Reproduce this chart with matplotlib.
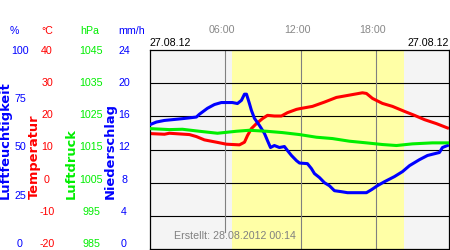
import matplotlib
matplotlib.use("Agg")
import matplotlib.pyplot as plt

# hours of the day (27.08.12) and readings
hum_hours = [0.0, 0.51, 1.15, 2.58, 3.69, 3.93, 4.57, 5.13, 5.68, 6.56, 6.96, 7.28, 7.52, 7.68,
             7.91, 8.07, 8.31, 8.71, 9.11, 9.35, 9.59, 9.90, 10.30, 10.70, 10.94, 11.26, 11.66,
             11.90, 12.53, 12.85, 13.09, 13.49, 13.89, 14.28, 14.68, 15.24, 15.72, 17.23, 17.63,
             18.10, 18.66, 19.46, 20.10, 20.66, 21.45, 22.09, 23.04, 23.28, 23.68]
humidity = [62.5, 63.8, 64.6, 65.5, 66.3, 67.7, 70.7, 72.6, 73.6, 73.6, 73.1, 74.7, 77.8, 77.8,
            73.2, 69.7, 65.7, 62.1, 58.1, 54.5, 51.0, 52.0, 51.0, 51.5, 49.5, 47.0, 44.4,
            43.2, 42.9, 40.4, 37.9, 35.9, 33.3, 31.8, 29.3, 28.8, 28.3, 28.3, 29.8,
            31.8, 33.8, 36.4, 38.9, 41.9, 44.9, 47.0, 48.5, 51.0, 52.0]

temp_hours = [0.0, 1.15, 1.54, 3.14, 3.69, 4.33, 5.29, 6.08, 7.12, 7.52, 7.76, 8.07, 8.47, 8.95,
              9.35, 9.90, 10.46, 10.94, 11.66, 11.90, 12.93, 13.89, 14.84, 15.88, 16.91, 17.23,
              17.71, 18.50, 19.30, 20.25, 21.05, 21.85, 22.80, 23.68]
temperature = [14.8, 14.6, 14.9, 14.5, 13.9, 12.9, 12.2, 11.6, 11.4, 12.2, 14.2, 16.3, 17.8, 19.3,
               20.3, 20.1, 20.1, 21.1, 22.1, 22.3, 23.0, 24.3, 25.7, 26.4, 27.1, 26.9,
               25.4, 23.9, 23.0, 21.5, 20.3, 19.0, 17.8, 16.5]

pres_hours = [0.0, 1.54, 2.58, 3.93, 5.37, 6.88, 7.91, 9.27, 10.54, 11.90, 13.25, 14.52, 15.88,
              17.23, 18.50, 19.62, 20.89, 22.48, 23.68]
pressure = [1021.3, 1021.0, 1021.1, 1020.5, 1019.9, 1020.5, 1020.8, 1020.5, 1020.1, 1019.5,
            1018.7, 1018.3, 1017.5, 1017.0, 1016.5, 1016.2, 1016.7, 1017.0, 1017.0]

sunrise, sunset = 6.56, 20.25
hour_ticks = [6, 12, 18]
hour_labels = ["06:00", "12:00", "18:00"]
hum_ticks = [0, 25, 50, 75, 100]
temp_ticks = [-20, -10, 0, 10, 20, 30, 40]
pres_ticks = [985, 995, 1005, 1015, 1025, 1035, 1045]
rain_ticks = [0, 4, 8, 12, 16, 20, 24]

BLUE = "#0000ff"
RED = "#ff0000"
GREEN = "#00ee00"
FS = 7.7
plt.rcParams["font.family"] = ["Liberation Sans", "DejaVu Sans"]
plt.rcParams["axes.unicode_minus"] = False

fig = plt.figure(figsize=(4.5, 2.5), dpi=100)
rect = [150 / 450, 1 / 250, 299 / 450, 199 / 250]
ax = fig.add_axes(rect)
ax.set_facecolor("#f4f4f4")
ax.axvspan(sunrise, sunset, color="#ffffa6", zorder=0, lw=0)
ax.set_xlim(0, 23.8)
ax.set_ylim(-20, 40)
for t in temp_ticks[1:-1]:
    ax.axhline(t, color="black", lw=0.8, zorder=1)
ax.axvline(6, ymin=0.085, color="#808080", lw=0.8, zorder=1)
for h in hour_ticks[1:]:
    ax.axvline(h, color="#808080", lw=0.8, zorder=1)
for s in ax.spines.values():
    s.set_linewidth(0.9)
    s.set_zorder(5)
ax.set_xticks([])
ax.set_yticks([])

h_ax = ax.twinx()
p_ax = ax.twinx()
h_ax.set_ylim(0, 100)
p_ax.set_ylim(985, 1045)
for a in (h_ax, p_ax):
    a.set_yticks([])
    for s in a.spines.values():
        s.set_visible(False)

ax.plot(temp_hours, temperature, color=RED, lw=2.2, zorder=3)
p_ax.plot(pres_hours, pressure, color=GREEN, lw=2.2)
h_ax.plot(hum_hours, humidity, color=BLUE, lw=2.2)

# scale labels: the labels in the original sit on a slightly shorter span (y 50..243)
lab_rect = [150 / 450, 7 / 250, 299 / 450, 193 / 250]
scales = [(hum_ticks, BLUE, 130), (temp_ticks, RED, 103), (pres_ticks, GREEN, 59),
          (rain_ticks, BLUE, 26)]
for i, (ticks, c, pad_px) in enumerate(scales):
    la = fig.add_axes(lab_rect, label=f"scale{i}")
    la.patch.set_visible(False)
    for s in la.spines.values():
        s.set_visible(False)
    la.set_ylim(ticks[0], ticks[-1])
    la.set_yticks(ticks)
    la.tick_params(axis="y", length=0, pad=pad_px * 0.72, labelsize=FS, labelcolor=c)
    plt.setp(la.get_yticklabels(), ha="center")
    if i == 0:
        # hour labels on top, a little left of the grid lines like the original
        la.set_xlim(0.25, 24.05)
        la.xaxis.tick_top()
        la.set_xticks(hour_ticks)
        la.set_xticklabels(hour_labels)
        la.tick_params(axis="x", length=0, pad=11, labelsize=FS, labelcolor="#888888")
    else:
        la.set_xticks([])

ax.annotate("27.08.12", xy=(0, 1), xycoords="axes fraction", xytext=(0, 1.5),
            textcoords="offset points", ha="left", va="bottom", fontsize=FS)
ax.annotate("27.08.12", xy=(1, 1), xycoords="axes fraction", xytext=(0, 1.5),
            textcoords="offset points", ha="right", va="bottom", fontsize=FS)
ax.text(0.08, 0.04, "Erstellt: 28.08.2012 00:14", transform=ax.transAxes,
        ha="left", va="bottom", fontsize=FS, color="#808080", zorder=6)

# column headers
for x, txt, c in [(14, "%", BLUE), (47, "°C", RED), (90, "hPa", GREEN), (132, "mm/h", BLUE)]:
    fig.text(x / 450, 1 - 30.5 / 250, txt, ha="center", va="center", fontsize=FS, color=c)

# rotated axis names
for x, txt, c in [(5.5, "Luftfeuchtigkeit", BLUE), (34, "Temperatur", RED),
                  (71.5, "Luftdruck", GREEN), (110, "Niederschlag", BLUE)]:
    fig.text(x / 450, 51 / 250, txt, rotation=90, ha="center", va="bottom",
             fontsize=9.4, color=c, fontweight="bold", family="DejaVu Sans")

fig.savefig("out.png", dpi=100)
